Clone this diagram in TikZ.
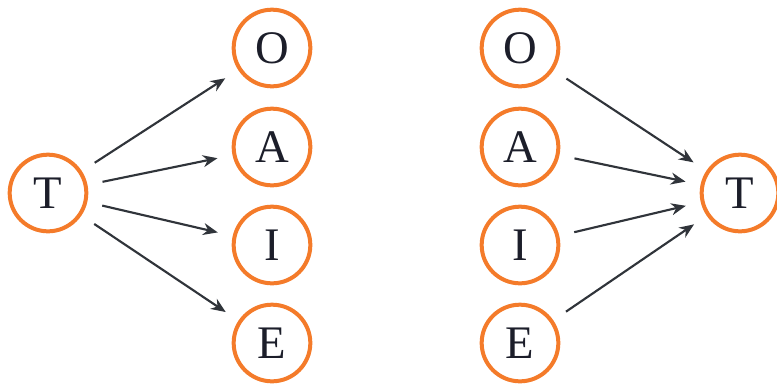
\documentclass[tikz,border=0pt]{standalone}
\usepackage{fontspec}
\setmainfont{Liberation Serif}
\usetikzlibrary{arrows.meta}
\definecolor{ringorange}{HTML}{F47B2A}
\definecolor{arrowgray}{HTML}{30343A}
\definecolor{lettercol}{HTML}{1C1E2A}
\begin{document}
\begin{tikzpicture}[x=0.75pt,y=-0.75pt,
  letter/.style={circle,draw=ringorange,line width=3pt,minimum size=57.5pt,inner sep=0pt,
    font=\fontsize{35}{35}\selectfont,text=lettercol},
  link/.style={draw=arrowgray,line width=1.6pt,-{Stealth[length=11pt,width=9pt]},
    shorten >=11.5pt,shorten <=11.5pt}]
\useasboundingbox (0,0) rectangle (777,387);
% left group
\node[letter] (lT) at (48,193) {T};
\node[letter] (lO) at (272,48) {O};
\node[letter] (lA) at (272,147) {A};
\node[letter] (lI) at (272,245) {I};
\node[letter] (lE) at (272,343) {E};
\draw[link] (lT) -- (lO);
\draw[link] (lT) -- (lA);
\draw[link] (lT) -- (lI);
\draw[link] (lT) -- (lE);
% right group
\node[letter] (rO) at (520,48) {O};
\node[letter] (rA) at (520,147) {A};
\node[letter] (rI) at (520,245) {I};
\node[letter] (rE) at (520,343) {E};
\node[letter] (rT) at (740,193) {T};
\draw[link] (rO) -- (rT);
\draw[link] (rA) -- (rT);
\draw[link] (rI) -- (rT);
\draw[link] (rE) -- (rT);
\end{tikzpicture}
\end{document}
